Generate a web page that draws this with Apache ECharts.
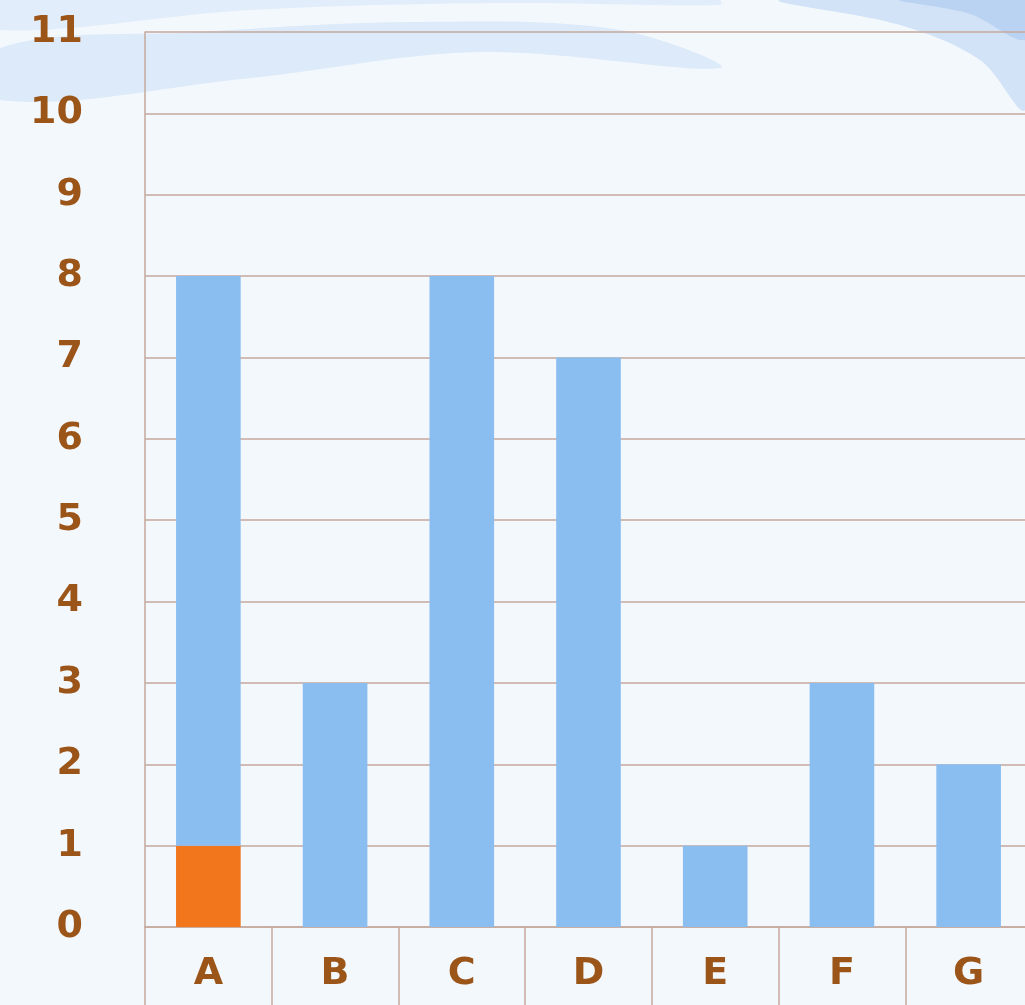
<!DOCTYPE html>
<html>
<head>
<meta charset="utf-8">
<script src="https://cdn.jsdelivr.net/npm/echarts@6/dist/echarts.min.js"></script>
<style>
  html, body { margin: 0; padding: 0; background: #f3f8fd; }
  #chart { width: 1025px; height: 1005px; }
</style>
</head>
<body>
<div id="chart"></div>
<script>
// categories and values
const categories = ['A', 'B', 'C', 'D', 'E', 'F', 'G']
const orangeValues = [1, 0, 0, 0, 0, 0, 0]
const blueValues = [7, 3, 8, 7, 1, 3, 2]
const yTicks = [0, 1, 2, 3, 4, 5, 6, 7, 8, 9, 10, 11]

const labelColor = '#9b5519'
const lineColor = '#c6a99d'
const labelFont = '"Comic Sans MS", "DejaVu Sans", sans-serif'

const myChart = echarts.init(document.getElementById('chart'))

// background waves (decoration only)
function wave (points, fill) {
  return {
    type: 'polygon',
    z: -10,
    silent: true,
    shape: { points: points, smooth: 0.35 },
    style: { fill: fill }
  }
}

const option = {
  backgroundColor: '#f3f8fd',
  animation: false,
  graphic: [
    wave([[0, 0], [0, 30], [250, 10], [500, 3], [720, 5], [720, 0]], 'rgba(205,225,246,0.45)'),
    wave([[0, 48], [200, 32], [420, 22], [620, 30], [720, 68], [480, 52], [250, 78], [0, 100]], 'rgba(185,212,242,0.4)'),
    wave([[780, 0], [900, 25], [980, 60], [1025, 110], [1025, 0]], 'rgba(170,202,239,0.45)'),
    wave([[900, 0], [970, 14], [1025, 40], [1025, 0]], 'rgba(150,187,234,0.4)')
  ],
  grid: {
    left: 145,
    top: 32,
    width: 887,
    height: 895,
    outerBoundsMode: 'none',
    containLabel: false
  },
  xAxis: {
    type: 'category',
    data: categories,
    axisLine: { show: true, lineStyle: { color: lineColor, width: 1.5 } },
    axisTick: {
      show: true,
      interval: 0,
      length: 80,
      lineStyle: { color: lineColor, width: 1.5 }
    },
    axisLabel: {
      color: labelColor,
      fontFamily: labelFont,
      fontWeight: 'bold',
      fontSize: 38,
      margin: 28
    }
  },
  yAxis: {
    type: 'value',
    min: 0,
    max: 11,
    interval: 1,
    axisLine: { show: true, lineStyle: { color: lineColor, width: 1.5 } },
    axisTick: { show: false },
    splitLine: { lineStyle: { color: lineColor, width: 1.5 } },
    axisLabel: {
      color: labelColor,
      fontFamily: labelFont,
      fontWeight: 'bold',
      fontSize: 38,
      margin: 62,
      formatter: v => (yTicks.includes(v) ? String(v) : '')
    }
  },
  series: [
    {
      name: 'orange',
      type: 'bar',
      stack: 'total',
      barWidth: '51%',
      itemStyle: { color: '#f2761c' },
      data: orangeValues
    },
    {
      name: 'blue',
      type: 'bar',
      stack: 'total',
      barWidth: '51%',
      itemStyle: { color: '#8bbef0' },
      data: blueValues
    }
  ]
}

myChart.setOption(option)
window.addEventListener('resize', () => myChart.resize())
</script>
</body>
</html>
